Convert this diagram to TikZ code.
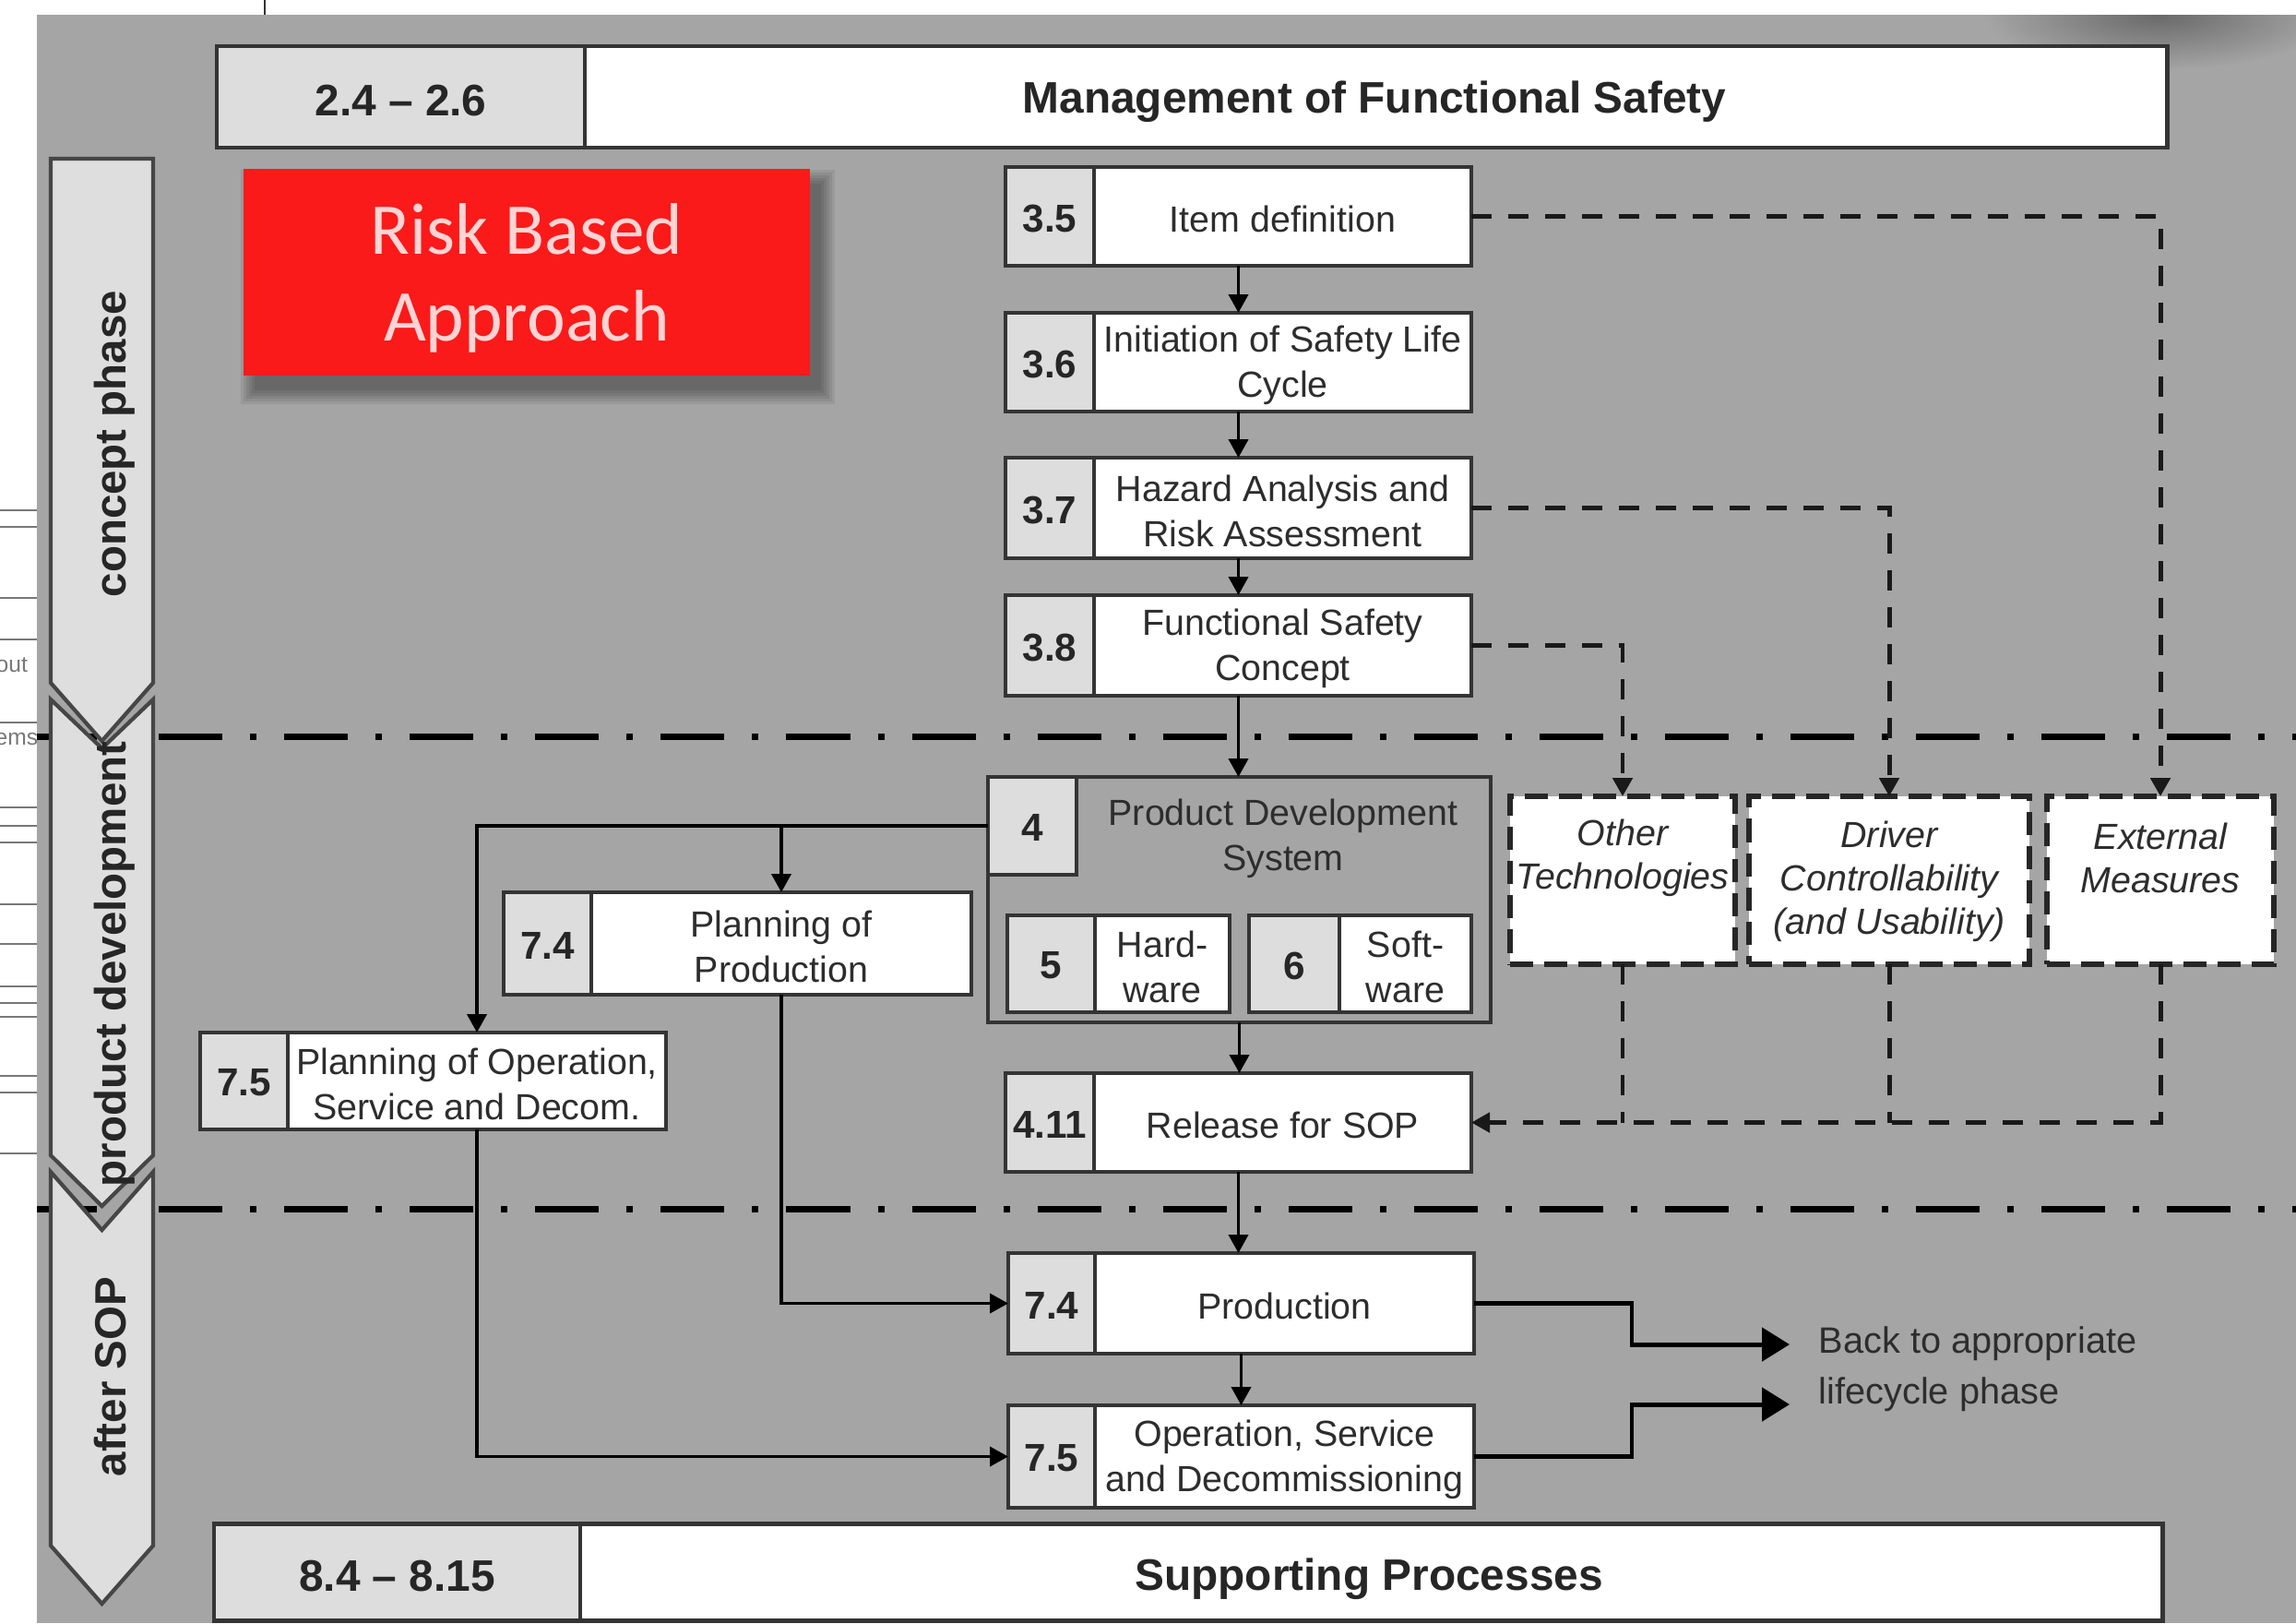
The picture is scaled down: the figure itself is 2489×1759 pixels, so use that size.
\documentclass[tikz,border=0pt]{standalone}
\usepackage{fontspec}
\setmainfont{Liberation Sans}
\newfontfamily\calfont{Carlito}
\usetikzlibrary{arrows.meta,fit}

\definecolor{bggray}{RGB}{165,165,165}
\definecolor{cellgray}{RGB}{221,221,221}
\definecolor{boxline}{RGB}{52,52,52}
\definecolor{txtgray}{RGB}{45,45,45}
\definecolor{riskred}{RGB}{250,26,26}
\definecolor{riskpink}{RGB}{255,212,212}
\definecolor{phasefill}{RGB}{222,222,222}
\definecolor{phaseline}{RGB}{70,70,70}
\definecolor{straygray}{RGB}{120,120,120}
\definecolor{smudge}{RGB}{105,105,105}

% one lifecycle step: name, x-left, x-split, x-right, y-top, y-bottom, clause, title
\newcommand\stagebox[8]{%
  \node[boxframe, fill=white, fit={(#2,#5)(#4,#6)}] (#1) {};
  \node[boxframe, fill=cellgray, fit={(#2,#5)(#3,#6)}] (#1-n) {};
  \node[numlabel] (#1-num) at ({(#2+#3)/2},{(#5+#6)/2+2}) {#7};
  \node[steptext] (#1-t) at ({(#3+#4)/2},{(#5+#6)/2+3}) {#8};
}

\begin{document}
\begin{tikzpicture}[x=0.01cm, y=-0.01cm,
  boxframe/.style={draw=boxline, line width=1.1pt, inner sep=0pt, outer sep=0pt},
  barframe/.style={draw=boxline, line width=1.4pt, inner sep=0pt, outer sep=0pt},
  steptext/.style={font=\fontsize{11.2}{13.9}\selectfont, text=txtgray, align=center, inner sep=0pt},
  italtext/.style={font=\itshape\fontsize{11.2}{13.4}\selectfont, text=txtgray, align=center, inner sep=0pt},
  numlabel/.style={font=\bfseries\fontsize{12}{14}\selectfont, text=black!85, inner sep=0pt},
  bartext/.style={font=\bfseries\fontsize{13.6}{16}\selectfont, text=black!85, inner sep=0pt},
  phaselabel/.style={font=\bfseries\fontsize{13.5}{16}\selectfont, text=black!85, inner sep=0pt},
  risktext/.style={font=\calfont\fontsize{22.5}{26.7}\selectfont, text=riskpink, align=center, inner sep=0pt},
  backtext/.style={font=\fontsize{11.3}{15.6}\selectfont, text=txtgray, align=left, inner sep=0pt},
  phasearrow/.style={draw=phaseline, fill=phasefill, line width=1.2pt, line join=miter},
  gateline/.style={draw=black, line width=2pt, dash pattern=on 0.69cm off 0.30cm on 0.07cm off 0.30cm, dash phase=0.04cm},
  arr/.style={draw=black, line width=1.1pt, -{Triangle[length=0.2cm, width=0.21cm]}},
  bigarr/.style={draw=black, line width=1.4pt, -{Triangle[length=0.3cm, width=0.36cm]}},
  dashline/.style={draw=black!90, line width=1.4pt, dash pattern=on 0.22cm off 0.18cm},
  dasharr/.style={dashline, -{Triangle[length=0.2cm, width=0.21cm]}},
  dashbox/.style={draw=black!85, fill=white, line width=1.5pt, dash pattern=on 0.25cm off 0.12cm, inner sep=0pt, outer sep=0pt}
]
\useasboundingbox (0,0) rectangle (2489,1759);
\fill[white] (0,0) rectangle (2489,1759);
\fill[bggray] (40,16) rectangle (2489,1759);

% page edge remnants on the left and top
\draw[boxline, line width=0.8pt] (287,0) -- (287,16);
\foreach \yy in {553,571,648,693,783,875,895,913,980,1023,1069,1087,1102,1166,1184,1250}
  \draw[straygray, line width=0.7pt] (0,\yy) -- (40,\yy);
\begin{scope}
  \clip (0,0) rectangle (40,1759);
  \node[anchor=base west, font=\fontsize{7}{8}\selectfont, text=straygray, inner sep=0pt] (edgeA) at (-5,728) {out};
  \node[anchor=base west, font=\fontsize{7}{8}\selectfont, text=straygray, inner sep=0pt] (edgeB) at (-6,807) {ems};
\end{scope}

% dark spot at the top right corner
\begin{scope}
  \clip (40,16) rectangle (2489,1759);
  \shade[inner color=smudge, outer color=bggray] (2340,16) ellipse (190 and 60);
\end{scope}

% phase gates
\draw[gateline] (40,798) -- (2489,798);
\draw[gateline] (40,1310) -- (2489,1310);

% phase arrows
\draw[phasearrow] (55,172) -- (166,172) -- (166,740) -- (110.5,803) -- (55,740) -- cycle;
\draw[phasearrow] (55,758) -- (110.5,811) -- (166,758) -- (166,1252) -- (110.5,1307) -- (55,1252) -- cycle;
\draw[phasearrow] (55,1270) -- (110.5,1333) -- (166,1270) -- (166,1675) -- (110.5,1738) -- (55,1675) -- cycle;
\node[phaselabel, rotate=90, anchor=base] (phC) at (136,481) {concept phase};
\node[phaselabel, rotate=90, anchor=base] (phP) at (136,1045) {product development};
\node[phaselabel, rotate=90, anchor=base] (phS) at (136,1492) {after SOP};

% management and supporting bars
\node[barframe, fill=white, fit={(235,50)(2349,160)}] (mgmt) {};
\node[barframe, fill=cellgray, fit={(235,50)(634,160)}] (mgmt-n) {};
\node[bartext] (mgmt-num) at (434.5,109) {2.4 – 2.6};
\node[bartext] (mgmt-t) at (1490,110) {Management of Functional Safety};

\node[barframe, fill=white, fit={(232,1651)(2344,1756)}] (supp) {};
\node[barframe, fill=cellgray, fit={(232,1651)(629,1756)}] (supp-n) {};
\node[bartext] (supp-num) at (430.5,1708) {8.4 – 8.15};
\node[bartext] (supp-t) at (1484,1711) {Supporting Processes};

% red label with soft shadow
\foreach \i in {0,...,5}
  \fill[black, opacity=0.07] ({264+12-\i*3},{183+16-\i*3}) rectangle ({878+12+\i*3},{407+16+\i*3});
\node[fill=riskred, inner sep=0pt, outer sep=0pt, fit={(264,183)(878,407)}] (risk) {};
\node[risktext] (risk-t) at (571,301) {Risk Based\\Approach};

% concept phase steps
\stagebox{b35}{1090}{1186}{1595}{181}{288}{3.5}{Item definition}
\stagebox{b36}{1090}{1186}{1595}{339}{446}{3.6}{Initiation of Safety Life\\Cycle}
\stagebox{b37}{1090}{1186}{1595}{496}{605}{3.7}{Hazard Analysis and\\Risk Assessment}
\stagebox{b38}{1090}{1186}{1595}{645}{754}{3.8}{Functional Safety\\Concept}

% product development system
\node[boxframe, fill=bggray, fit={(1071,842)(1616,1108)}] (pds) {};
\node[boxframe, fill=cellgray, fit={(1071,842)(1167,948)}] (pds-n) {};
\node[numlabel] (pds-num) at (1119,897) {4};
\node[steptext] (pds-t) at (1391,909) {Product Development\\System};
\stagebox{hw}{1092}{1187}{1333}{992}{1097}{5}{Hard-\\ware}
\stagebox{sw}{1354}{1452}{1595}{992}{1097}{6}{Soft-\\ware}

\stagebox{b411}{1090}{1186}{1595}{1163}{1270}{4.11}{Release for SOP}
\stagebox{pl74}{546}{641}{1053}{967}{1078}{7.4}{Planning of\\Production}
\stagebox{pl75}{217}{312}{722}{1119}{1224}{7.5}{Planning of Operation,\\Service and Decom.}

% after SOP steps
\stagebox{b74}{1093}{1187}{1598}{1358}{1467}{7.4}{Production}
\stagebox{b75}{1093}{1187}{1598}{1523}{1634}{7.5}{Operation, Service\\and Decommissioning}

% other risk reduction measures
\node[dashbox, fit={(1637,863)(1881,1045)}] (oth) {};
\node[italtext] (oth-t) at (1759,930) {Other\\Technologies};
\node[dashbox, fit={(1896,863)(2200,1045)}] (drv) {};
\node[italtext] (drv-t) at (2048,955) {Driver\\Controllability\\(and Usability)};
\node[dashbox, fit={(2219,863)(2465,1045)}] (ext) {};
\node[italtext] (ext-t) at (2342,930) {External\\Measures};

% main flow
\draw[arr] (b35.south) -- (b36.north);
\draw[arr] (b36.south) -- (b37.north);
\draw[arr] (b37.south) -- (b38.north);
\draw[arr] (b38.south) -- (b38.south |- pds.north);
\draw[arr] (pds.south) -- (pds.south |- b411.north);
\draw[arr] (b411.south) -- (b411.south |- b74.north);
\draw[arr] (b74.south) -- (b75.north);

% planning branches
\draw[arr] (pds-n.west) -| (pl75-t |- pl75.north);
\draw[arr] (pds-n.west -| pl74-t) -- (pl74-t |- pl74.north);
\draw[arr] (pl75-t |- pl75.south) |- (b75.west);
\draw[arr] (pl74-t |- pl74.south) |- (b74.west);

% return to lifecycle
\coordinate (ret1) at (1940,1457);
\coordinate (ret2) at (1940,1522);
\draw[bigarr] (b74.east) -| (1769,1435) |- (ret1);
\draw[bigarr] (b75.east) -| (1769,1550) |- (ret2);
\node[backtext, anchor=west] (backlbl) at (1971,1484) {Back to appropriate\\lifecycle phase};

% dashed links to external measures
\draw[dasharr] (b35.east) -| (ext.north);
\draw[dasharr] (b37.east) -| (drv.north);
\draw[dasharr] (b38.east) -| (oth.north);
\draw[dashline] (oth.south) -- (oth.south |- b411.east);
\draw[dashline] (drv.south) -- (drv.south |- b411.east);
\draw[dasharr] (ext.south) |- (b411.east);
\end{tikzpicture}
\end{document}
